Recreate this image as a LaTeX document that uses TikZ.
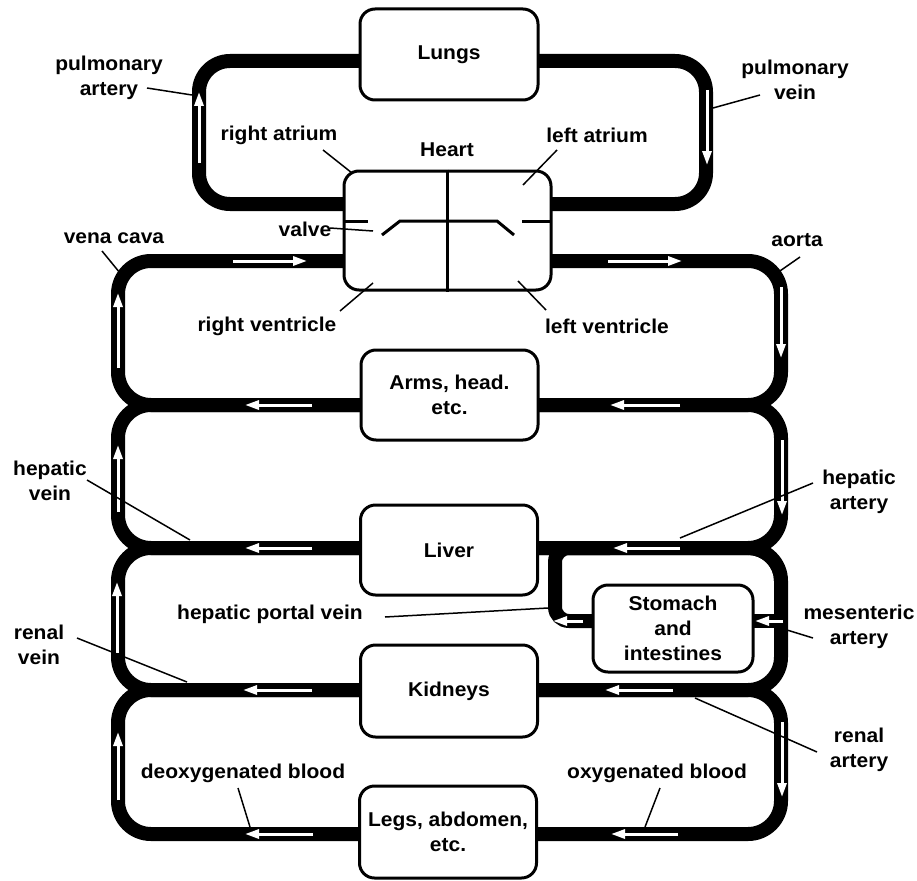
\documentclass[tikz,border=0pt]{standalone}
\usepackage{fontspec}
\setmainfont{Liberation Sans}[FakeStretch=1.05]
\usetikzlibrary{arrows.meta}
\begin{document}
\begin{tikzpicture}[x=1pt,y=-1pt,
  font=\fontsize{20}{25}\selectfont\bfseries,
  pipe/.style={line width=14pt},
  flow/.style={white, line width=3pt, -{Triangle[length=14pt,width=9pt]}},
  organ/.style={draw, line width=3pt, fill=white, rounded corners=15pt, align=center, inner sep=0pt},
  leader/.style={line width=1.5pt},
  lbl/.style={align=center, inner sep=0pt},
  valveline/.style={line width=3pt}]
\useasboundingbox (0,0) rectangle (917,880);
% ---------- loop corners
\coordinate (p1) at (199,61);  \coordinate (p2) at (706,204);
\coordinate (a1) at (118,261); \coordinate (a2) at (781,405);
\coordinate (b1) at (118,405); \coordinate (b2) at (781,548);
\coordinate (c1) at (118,548); \coordinate (c2) at (781,690);
\coordinate (d1) at (118,690); \coordinate (d2) at (781,834);
\draw[pipe, rounded corners=31pt] (p1) rectangle (p2);
\draw[pipe, rounded corners=33pt] (a1) rectangle (a2);
\draw[pipe, rounded corners=33pt] (b1) rectangle (b2);
\draw[pipe, rounded corners=33pt] (c1) rectangle (c2);
\draw[pipe, rounded corners=33pt] (d1) rectangle (d2);
% ---------- stomach branches
\coordinate (sw) at (593,621); \coordinate (pv) at (555,621);
\coordinate (pt) at (555,548); \coordinate (pj) at (610,548);
\coordinate (se) at (753,621); \coordinate (me) at (781,621);
\draw[pipe, rounded corners=14pt] (sw) -- (pv) -- (pt) -- (pj);
\draw[pipe] (se) -- (me);
\fill (748,555) -- (765,555) .. controls (770,555) and (774,559) .. (774,564)
  -- (774,581) .. controls (774,566.6) and (762.4,555) .. (748,555) -- cycle;
% ---------- flow arrows
\draw[flow] (199,163) -- (199,92);
\draw[flow] (707,90) -- (707,165);
\draw[flow] (233,261) -- (307,261);
\draw[flow] (608,261) -- (682,261);
\draw[flow] (118,368) -- (118,293);
\draw[flow] (781,287) -- (781,358);
\draw[flow] (312,405) -- (245,405);
\draw[flow] (680,405) -- (610,405);
\draw[flow] (118,512) -- (118,445);
\draw[flow] (782,440) -- (782,515);
\draw[flow] (312,548) -- (245,548);
\draw[flow] (680,548) -- (613,548);
\draw[flow] (117,653) -- (117,582);
\draw[flow] (583,621) -- (553,621);
\draw[flow] (783,621) -- (755,621);
\draw[flow] (312,690) -- (243,690);
\draw[flow] (673,690) -- (605,690);
\draw[flow] (118,800) -- (118,732);
\draw[flow] (782,722) -- (782,797);
\draw[flow] (313,834) -- (245,834);
\draw[flow] (678,834) -- (611,834);
% ---------- organs
\node[organ, minimum width=178pt, minimum height=91pt] (lungs) at (449,54.5) {Lungs};
\node[organ, minimum width=207pt, minimum height=119pt] (heart) at (447.5,230.5) {};
\node[organ, minimum width=177pt, minimum height=90pt] (arms) at (449.5,395) {Arms, head.\\etc.};
\node[organ, minimum width=177pt, minimum height=90pt] (liver) at (449,550) {Liver};
\node[organ, minimum width=160pt, minimum height=87pt] (stomach) at (673,628.5) {Stomach\\and\\intestines};
\node[organ, minimum width=177pt, minimum height=92pt] (kidneys) at (449,691) {Kidneys};
\node[organ, minimum width=177pt, minimum height=92pt] (legs) at (448,832) {Legs, abdomen,\\etc.};
% ---------- heart interior
\draw[valveline] (heart.north) -- (heart.south);
\draw[valveline] (344,221) -- (368,221);
\draw[valveline] (382,235) -- (400,221) -- (497,221) -- (514,235);
\draw[valveline] (522,221) -- (551,221);
% ---------- labels
\node[lbl] (tPA) at (109,78) {pulmonary\\artery};
\node[lbl] (tPV) at (795,80) {pulmonary\\vein};
\node[lbl] (tHeart) at (447,150) {Heart};
\node[lbl] (tRA) at (279,135) {right atrium};
\node[lbl] (tLA) at (597,135) {left atrium};
\node[lbl] (tValve) at (305,229) {valve};
\node[lbl] (tVC) at (114,238) {vena cava};
\node[lbl] (tAo) at (797,240) {aorta};
\node[lbl] (tRV) at (267,326) {right ventricle};
\node[lbl] (tLV) at (607,326) {left ventricle};
\node[lbl] (tHV) at (50,481) {hepatic\\vein};
\node[lbl] (tHA) at (859,492) {hepatic\\artery};
\node[lbl] (tHPV) at (270,614) {hepatic portal vein};
\node[lbl] (tMA) at (859,627) {mesenteric\\artery};
\node[lbl] (tRVn) at (39,645) {renal\\vein};
\node[lbl] (tRAr) at (859,750) {renal\\artery};
\node[lbl] (tDeox) at (243,773) {deoxygenated blood};
\node[lbl] (tOx) at (657,773) {oxygenated blood};
% ---------- leader lines
\path (147,88) coordinate (q1a) (192,95) coordinate (q1b)
      (760,95) coordinate (q2a) (713,108) coordinate (q2b)
      (323,150) coordinate (q3a) (352,173) coordinate (q3b)
      (557,150) coordinate (q4a) (523,185) coordinate (q4b)
      (330,228) coordinate (q5a) (373,231) coordinate (q5b)
      (102,251) coordinate (q6a) (120,273) coordinate (q6b)
      (800,257) coordinate (q7a) (777,273) coordinate (q7b)
      (340,311) coordinate (q8a) (373,283) coordinate (q8b)
      (546,310) coordinate (q9a) (518,281) coordinate (q9b)
      (87,480) coordinate (q10a) (190,540) coordinate (q10b)
      (813,483) coordinate (q11a) (680,538) coordinate (q11b)
      (385,617) coordinate (q12a) (548,608) coordinate (q12b)
      (813,638) coordinate (q13a) (787,630) coordinate (q13b)
      (77,638) coordinate (q14a) (187,682) coordinate (q14b)
      (817,752) coordinate (q15a) (695,698) coordinate (q15b)
      (238,788) coordinate (q16a) (250,827) coordinate (q16b)
      (660,788) coordinate (q17a) (645,827) coordinate (q17b);
\foreach \i in {1,...,17} \draw[leader] (q\i a) -- (q\i b);
\end{tikzpicture}
\end{document}
